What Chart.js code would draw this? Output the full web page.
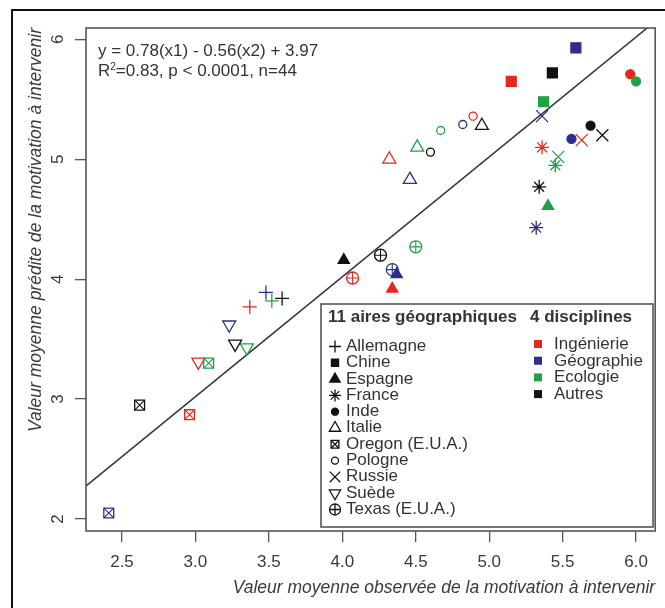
<!DOCTYPE html>
<html lang="fr">
<head>
    <meta charset="UTF-8">
    <title>Motivation à intervenir</title>
    <script src="https://cdn.jsdelivr.net/npm/chart.js@4"></script>
    <style>
        body { margin: 0; background: #fff; }
        #wrap {
            position: relative; width: 665px; height: 608px; overflow: hidden;
            font-family: "Liberation Sans", Arial, sans-serif; color: #333;
        }
        #frame {
            position: absolute; left: 11px; top: 9px; width: 800px; height: 800px;
            border-left: 2px solid #111; border-top: 2px solid #111;
        }
        #chart { position: absolute; left: 0; top: 0; }
        .txt { position: absolute; font-size: 17px; white-space: nowrap; }
        .eq { left: 98px; line-height: 20px; top: 41px; }
        .eq sup { font-size: 10px; vertical-align: 6px; line-height: 0; }
        .leg-title { font-weight: bold; top: 307px; line-height: 20px; }
        .leg-list { line-height: 16.3px; }
    </style>
</head>
<body>
<div id="wrap">
    <div id="frame"></div>
    <canvas id="chart" width="665" height="608"></canvas>

    <div class="txt eq">y = 0.78(x1) - 0.56(x2) + 3.97<br>R<sup>2</sup>=0.83, p &lt; 0.0001, n=44</div>

    <div class="txt leg-title" style="left:328px">11 aires géographiques</div>
    <div class="txt leg-title" style="left:530px">4 disciplines</div>
    <div class="txt leg-list" id="legCountries" style="left:346px; top:338px"></div>
    <div class="txt leg-list" id="legDisc" style="left:554px; top:336px; line-height:16.7px"></div>
</div>

<script>
    // 11 aires géographiques (forme du symbole)
    const countries = ['Allemagne', 'Chine', 'Espagne', 'France', 'Inde', 'Italie',
        'Oregon (E.U.A.)', 'Pologne', 'Russie', 'Suède', 'Texas (E.U.A.)'];
    // 4 disciplines (couleur du symbole)
    const disciplines = ['Ingénierie', 'Géographie', 'Ecologie', 'Autres'];

    // valeurs observées (x) et prédites (y), dans l'ordre des pays
    const ingX = [3.37, 5.15, 4.34, 5.36, 5.96, 4.32, 2.96, 4.89, 5.63, 3.02, 4.07];
    const ingY = [3.77, 5.65, 3.92, 5.10, 5.71, 5.00, 2.87, 5.36, 5.16, 3.31, 4.01];
    const geoX = [3.48, 5.59, 4.37, 5.32, 5.56, 4.46, 2.41, 4.82, 5.36, 3.23, 4.34];
    const geoY = [3.89, 5.93, 4.04, 4.43, 5.17, 4.83, 2.05, 5.29, 5.36, 3.62, 4.08];
    const ecoX = [3.52, 5.37, 5.40, 5.45, 6.00, 4.51, 3.09, 4.67, 5.47, 3.35, 4.50];
    const ecoY = [3.82, 5.48, 4.61, 4.95, 5.65, 5.10, 3.30, 5.24, 5.02, 3.43, 4.27];
    const autX = [3.59, 5.43, 4.01, 5.34, 5.69, 4.95, 2.62, 4.60, 5.77, 3.27, 4.26];
    const autY = [3.84, 5.72, 4.16, 4.77, 5.28, 5.28, 2.95, 5.06, 5.20, 3.46, 4.20];

    // droite 1:1
    const lineX = [2.2, 6.2];
    const lineY = [2.22, 6.22];

    const xTicks = [2.5, 3.0, 3.5, 4.0, 4.5, 5.0, 5.5, 6.0];
    const yTicks = [2, 3, 4, 5, 6];

    const discColors = ['#e3291f', '#2b2e8c', '#22a045', '#111111'];
    const discX = [ingX, geoX, ecoX, autX];
    const discY = [ingY, geoY, ecoY, autY];

    // symboles façon R
    const markers = [
        { style: 'cross', r: 7 },
        { style: 'rect', r: 7, filled: true },
        { style: 'triangle', r: 6.5, filled: true },
        { style: 'star', r: 7 },
        { style: 'circle', r: 4.5, filled: true },
        { style: 'triangle', r: 7.5 },
        { style: 'rect', r: 7, inner: 'crossRot' },
        { style: 'circle', r: 4 },
        { style: 'crossRot', r: 8.5 },
        { style: 'triangle', r: 7.5, rot: 180 },
        { style: 'circle', r: 6, inner: 'cross' }
    ];
    // mêmes symboles, plus petits, pour la légende
    const legendMarkers = [
        { style: 'cross', r: 6 },
        { style: 'rect', r: 5, filled: true },
        { style: 'triangle', r: 6, filled: true },
        { style: 'star', r: 6 },
        { style: 'circle', r: 3.5, filled: true },
        { style: 'triangle', r: 6.5 },
        { style: 'rect', r: 5.5, inner: 'crossRot' },
        { style: 'circle', r: 3.5 },
        { style: 'crossRot', r: 7.5 },
        { style: 'triangle', r: 6.5, rot: 180 },
        { style: 'circle', r: 5.5, inner: 'cross' }
    ];

    const datasets = [];
    countries.forEach((name, i) => {
        const m = markers[i];
        const pts = discX.map((xs, j) => ({ x: xs[i], y: discY[j][i] }));
        datasets.push({
            label: name,
            data: pts,
            pointStyle: m.style,
            pointRadius: m.r,
            pointRotation: m.rot || 0,
            pointBorderWidth: 1.3,
            pointBorderColor: discColors,
            pointBackgroundColor: m.filled ? discColors : 'rgba(0,0,0,0)',
            order: 0
        });
        if (m.inner) {
            datasets.push({
                label: name + ' (int.)',
                data: pts,
                pointStyle: m.inner,
                pointRadius: m.r,
                pointBorderWidth: 1.1,
                pointBorderColor: discColors,
                pointBackgroundColor: 'rgba(0,0,0,0)',
                order: 0
            });
        }
    });
    datasets.push({
        type: 'line',
        label: '1:1',
        data: lineX.map((x, k) => ({ x: x, y: lineY[k] })),
        borderColor: '#333',
        borderWidth: 1.5,
        pointRadius: 0,
        showLine: true,
        order: 10
    });

    function mark(ctx, m, x, y, color) {
        ctx.strokeStyle = color;
        ctx.fillStyle = m.filled ? color : 'rgba(0,0,0,0)';
        ctx.lineWidth = 1.3;
        Chart.helpers.drawPoint(ctx, { pointStyle: m.style, radius: m.r, rotation: m.rot || 0, borderWidth: 1.3 }, x, y);
        if (m.inner) {
            ctx.fillStyle = 'rgba(0,0,0,0)';
            Chart.helpers.drawPoint(ctx, { pointStyle: m.inner, radius: m.r, rotation: 0, borderWidth: 1.1 }, x, y);
        }
    }

    // cadre du graphique + boîte de légende
    const boxPlugin = {
        id: 'rbox',
        afterDatasetsDraw(chart) {
            const { ctx, chartArea: a } = chart;
            ctx.save();
            ctx.strokeStyle = '#555';
            ctx.lineWidth = 1.6;
            ctx.strokeRect(a.left, a.top, a.right - a.left, a.bottom - a.top);

            ctx.fillStyle = '#fff';
            ctx.fillRect(321, 304, 332, 223);
            ctx.strokeRect(321, 304, 332, 223);

            legendMarkers.forEach((m, i) => mark(ctx, m, 335, 346.5 + i * 16.3, '#111'));
            discColors.forEach((c, i) => {
                ctx.fillStyle = c;
                ctx.fillRect(534, 340 + i * 16.7, 8, 8);
            });
            ctx.restore();
        }
    };

    document.getElementById('legCountries').innerHTML = countries.join('<br>');
    document.getElementById('legDisc').innerHTML = disciplines.join('<br>');

    Chart.defaults.font.family = '"Liberation Sans", Arial, sans-serif';
    Chart.defaults.color = '#3a3a3a';

    new Chart(document.getElementById('chart'), {
        type: 'scatter',
        data: { datasets: datasets },
        plugins: [boxPlugin],
        options: {
            responsive: false,
            animation: false,
            events: [],
            layout: { padding: { left: 0, right: 4, top: 28, bottom: 0 } },
            plugins: { legend: { display: false }, tooltip: { enabled: false } },
            scales: {
                x: {
                    type: 'linear',
                    min: 2.255,
                    max: 6.13,
                    afterBuildTicks: s => { s.ticks = xTicks.map(v => ({ value: v })); },
                    afterFit: s => { s.height = 77; },
                    grid: { drawOnChartArea: false, drawTicks: true, tickLength: 11, color: '#555', lineWidth: 1.3 },
                    border: { display: false },
                    ticks: {
                        autoSkip: false,
                        maxRotation: 0,
                        padding: 10,
                        font: { size: 17 },
                        callback: v => v.toFixed(1)
                    },
                    title: {
                        display: true,
                        text: 'Valeur moyenne observée de la motivation à intervenir',
                        align: 'end',
                        font: { size: 17.5, style: 'italic' },
                        padding: { top: 0, bottom: 9 }
                    }
                },
                y: {
                    type: 'linear',
                    min: 1.9,
                    max: 6.095,
                    afterBuildTicks: s => { s.ticks = yTicks.map(v => ({ value: v })); },
                    afterFit: s => { s.width = 86; },
                    grid: { drawOnChartArea: false, drawTicks: true, tickLength: 11, color: '#555', lineWidth: 1.3 },
                    border: { display: false },
                    ticks: {
                        autoSkip: false,
                        minRotation: 90,
                        maxRotation: 90,
                        crossAlign: 'center',
                        padding: 12,
                        font: { size: 17 },
                        callback: v => String(v)
                    },
                    title: {
                        display: true,
                        text: 'Valeur moyenne prédite de la motivation à intervenir',
                        align: 'end',
                        font: { size: 17.5, style: 'italic' },
                        padding: { top: 26, bottom: 0 }
                    }
                }
            }
        }
    });
</script>
</body>
</html>
